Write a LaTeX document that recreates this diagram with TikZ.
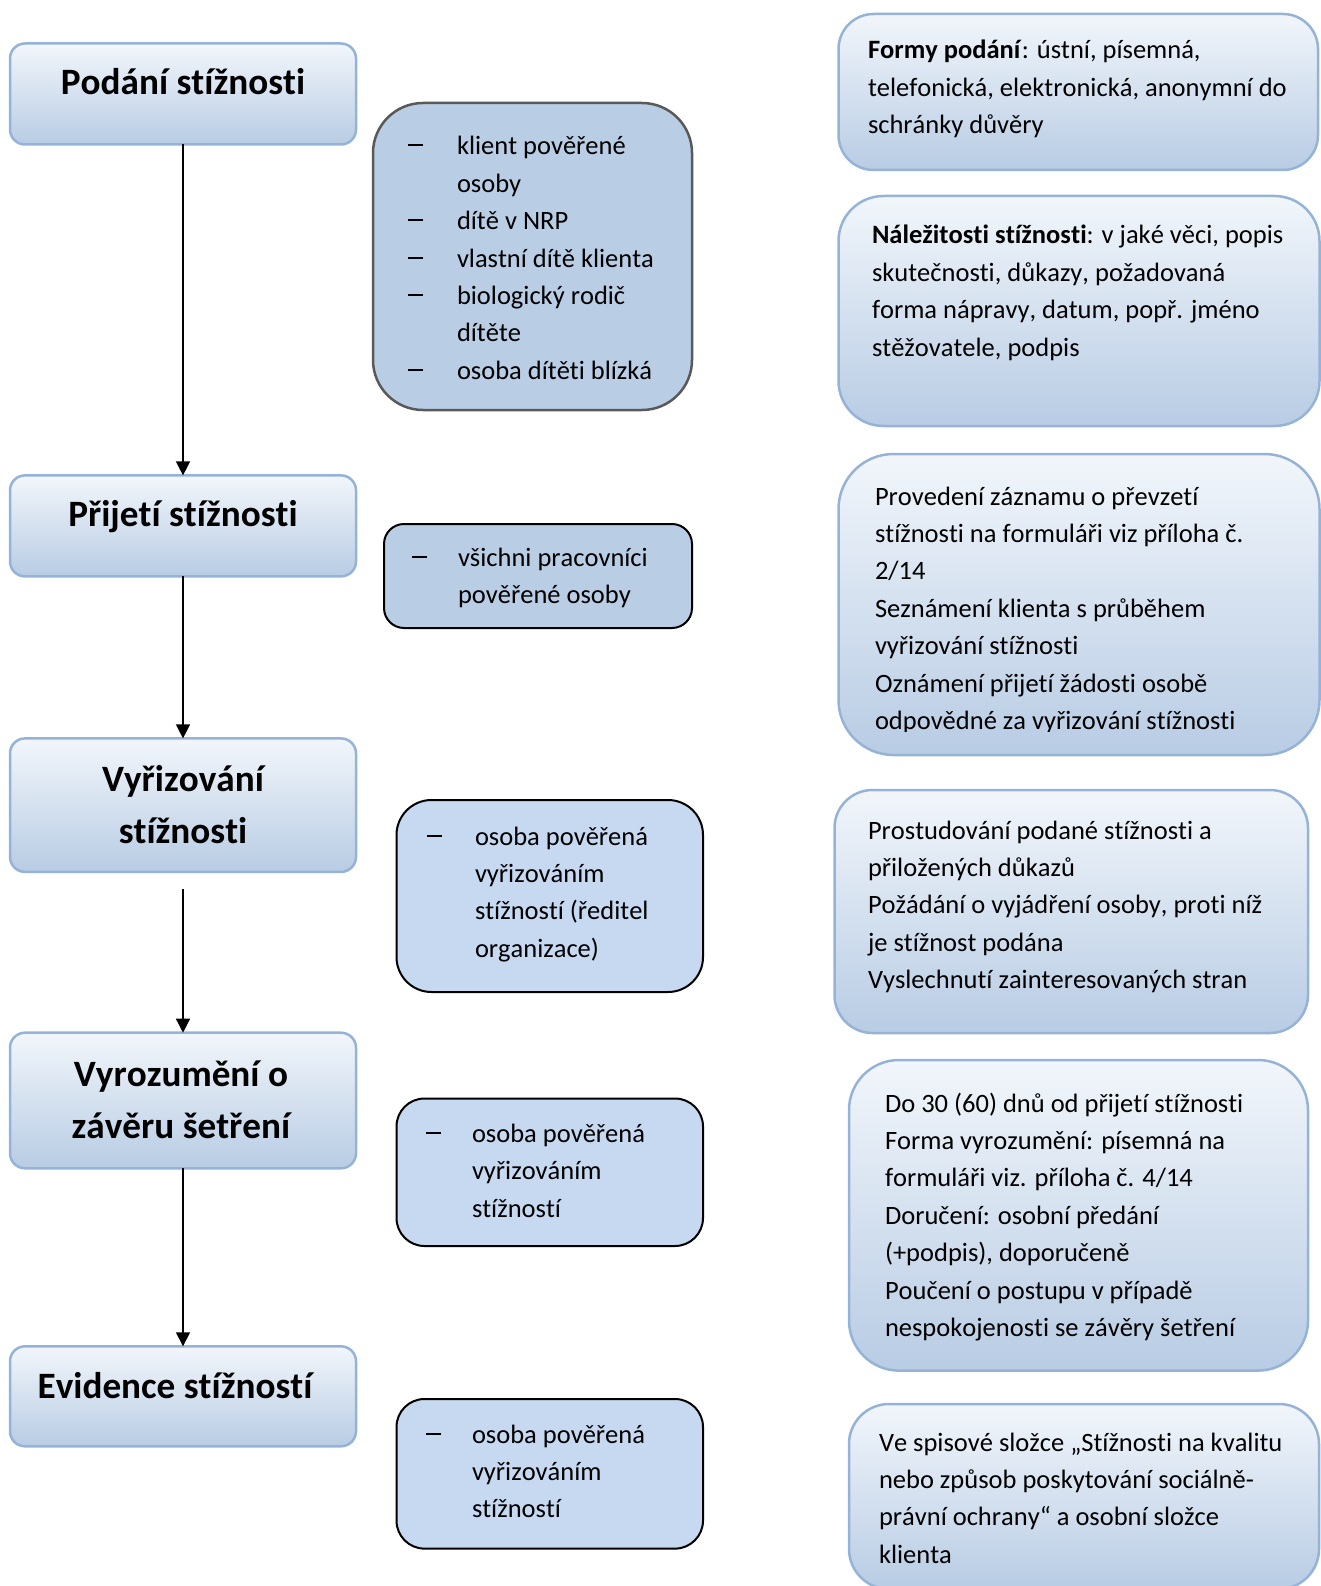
\documentclass[tikz,border=0pt]{standalone}
\usepackage{fontspec}
\setmainfont{Carlito}[Ligatures={TeX,NoCommon}, Kerning=Off]
\usetikzlibrary{arrows.meta}
\definecolor{bord}{HTML}{95B3D7}
\definecolor{gtop}{HTML}{F2F6FB}
\definecolor{gbot}{HTML}{B8CCE4}
\definecolor{midA}{HTML}{B9CDE5}
\definecolor{midC}{HTML}{C6D9F1}
\definecolor{grayb}{HTML}{595959}
\newcommand\dsh{\rule[8.5pt]{15pt}{2pt}}
\tikzset{
  box/.style={rectangle, rounded corners=#1, inner sep=0pt, outer sep=0pt, anchor=north west},
  gbox/.style={box=#1, draw=bord, line width=2.5pt, top color=gtop, bottom color=gbot},
  mbox/.style={box=#1, draw=black, line width=2pt, fill=midC},
  txt/.style={inner sep=0pt, outer sep=0pt, anchor=base west, font=\fontsize{26.5}{37.4}\selectfont},
  ttl/.style={inner sep=0pt, outer sep=0pt, anchor=base, font=\fontsize{37.2}{52.6}\selectfont\bfseries},
  arr/.style={-{Triangle[length=14pt,width=14pt]}, line width=1.4pt, black}
}
\begin{document}
\begin{tikzpicture}[x=1pt,y=-1pt]
\useasboundingbox (0,0) rectangle (1321,1586);
% left process boxes
\node[gbox=15pt, minimum width=346pt, minimum height=101pt] (L1) at (10,43.5) {};
\node[gbox=15pt, minimum width=346pt, minimum height=101pt] (L2) at (10,475.4) {};
\node[gbox=15pt, minimum width=346pt, minimum height=133.5pt] (L3) at (10,738.4) {};
\node[gbox=15pt, minimum width=346pt, minimum height=135.6pt] (L4) at (10,1032.7) {};
\node[gbox=15pt, minimum width=346pt, minimum height=100pt] (L5) at (10,1346.3) {};
\node[ttl] (T1) at (183,95) {Podání stížnosti};
\node[ttl] (T2) at (183,526) {Přijetí stížnosti};
\node[ttl] (T3) at (183,791) {\begin{tabular}[t]{@{}c@{}}Vyřizování\\ stížnosti\end{tabular}};
\node[ttl] (T4) at (181,1086) {\begin{tabular}[t]{@{}c@{}}Vyrozumění o\\ závěru šetření\end{tabular}};
\node[ttl] (T5) at (175,1398) {Evidence stížností};
% arrows
\coordinate (c3) at (183,889);
\draw[arr] (L1.south) -- (L2.north);
\draw[arr] (L2.south) -- (L3.north);
\draw[arr] (c3) -- (L4.north);
\draw[arr] (L4.south) -- (L5.north);
% middle boxes
\node[box=50pt, draw=grayb, line width=2.5pt, fill=midA, minimum width=319pt, minimum height=307pt] (A) at (373,103) {};
\node[txt] (tA) at (408,155) {\begin{tabular}[t]{@{}p{49pt}@{}l@{}}
\dsh&klient pověřené\\ &osoby\\ \dsh&dítě v NRP\\ \dsh&vlastní dítě klienta\\ \dsh&biologický rodič\\ &dítěte\\ \dsh&osoba dítěti blízká\end{tabular}};
\node[box=20pt, draw=black, line width=2pt, fill=midA, minimum width=308pt, minimum height=104pt] (B) at (384,524) {};
\node[txt] (tB) at (412,566) {\begin{tabular}[t]{@{}p{46pt}@{}l@{}}
\dsh&všichni pracovníci\\ &pověřené osoby\end{tabular}};
\node[mbox=35pt, minimum width=306.5pt, minimum height=192pt] (C) at (396.5,800) {};
\node[txt] (tC) at (427,845) {\begin{tabular}[t]{@{}p{48pt}@{}l@{}}
\dsh&osoba pověřená\\ &vyřizováním\\ &stížností (ředitel\\ &organizace)\end{tabular}};
\node[mbox=28pt, minimum width=306.5pt, minimum height=147.5pt] (D) at (396.5,1098.5) {};
\node[txt] (tD) at (426,1142.5) {\begin{tabular}[t]{@{}p{46pt}@{}l@{}}
\dsh&osoba pověřená\\ &vyřizováním\\ &stížností\end{tabular}};
\node[mbox=28pt, minimum width=306.5pt, minimum height=149.6pt] (E) at (396.5,1399) {};
\node[txt] (tE) at (426,1443) {\begin{tabular}[t]{@{}p{46pt}@{}l@{}}
\dsh&osoba pověřená\\ &vyřizováním\\ &stížností\end{tabular}};
% right boxes
\node[gbox=35pt, minimum width=479.5pt, minimum height=156pt] (R1) at (838.5,14) {};
\node[txt] (tR1) at (868,59) {\begin{tabular}[t]{@{}l@{}}
\textbf{Formy podání}: ústní, písemná,\\ telefonická, elektronická, anonymní do\\ schránky důvěry\end{tabular}};
\node[gbox=45pt, minimum width=481pt, minimum height=230pt] (R2) at (838.5,196) {};
\node[txt] (tR2) at (872,244) {\begin{tabular}[t]{@{}l@{}}
\textbf{Náležitosti stížnosti}: v jaké věci, popis\\ skutečnosti, důkazy, požadovaná\\ forma nápravy, datum, popř. jméno\\ stěžovatele, podpis\end{tabular}};
\node[gbox=55pt, minimum width=481pt, minimum height=301pt] (R3) at (838.5,454) {};
\begin{scope}
\clip (840,456) rectangle (1321,731);
\node[txt] (tR3) at (875,505) {\begin{tabular}[t]{@{}l@{}}
Provedení záznamu o převzetí\\ stížnosti na formuláři viz příloha č.\\ 2/14\\ Seznámení klienta s průběhem\\ vyřizování stížnosti\\ Oznámení přijetí žádosti osobě\\ odpovědné za vyřizování stížnosti\end{tabular}};
\end{scope}
\node[gbox=38pt, minimum width=473.5pt, minimum height=243pt] (R4) at (834.5,790) {};
\node[txt] (tR4) at (868,839) {\begin{tabular}[t]{@{}l@{}}
Prostudování podané stížnosti a\\ přiložených důkazů\\ Požádání o vyjádření osoby, proti níž\\ je stížnost podána\\ Vyslechnutí zainteresovaných stran\end{tabular}};
\node[gbox=50pt, minimum width=459pt, minimum height=310.6pt] (R5) at (849,1060) {};
\node[txt] (tR5) at (885,1112) {\begin{tabular}[t]{@{}l@{}}
Do 30 (60) dnů od přijetí stížnosti\\ Forma vyrozumění: písemná na\\ formuláři viz. příloha č. 4/14\\ Doručení: osobní předání\\ (+podpis), doporučeně\\ Poučení o postupu v případě\\ nespokojenosti se závěry šetření\end{tabular}};
\node[gbox=40pt, minimum width=470pt, minimum height=185pt] (R6) at (849,1404) {};
\node[txt] (tR6) at (879,1451) {\begin{tabular}[t]{@{}l@{}}
Ve spisové složce „Stížnosti na kvalitu\\ nebo způsob poskytování sociálně-\\ právní ochrany“ a osobní složce\\ klienta\end{tabular}};
\end{tikzpicture}
\end{document}
